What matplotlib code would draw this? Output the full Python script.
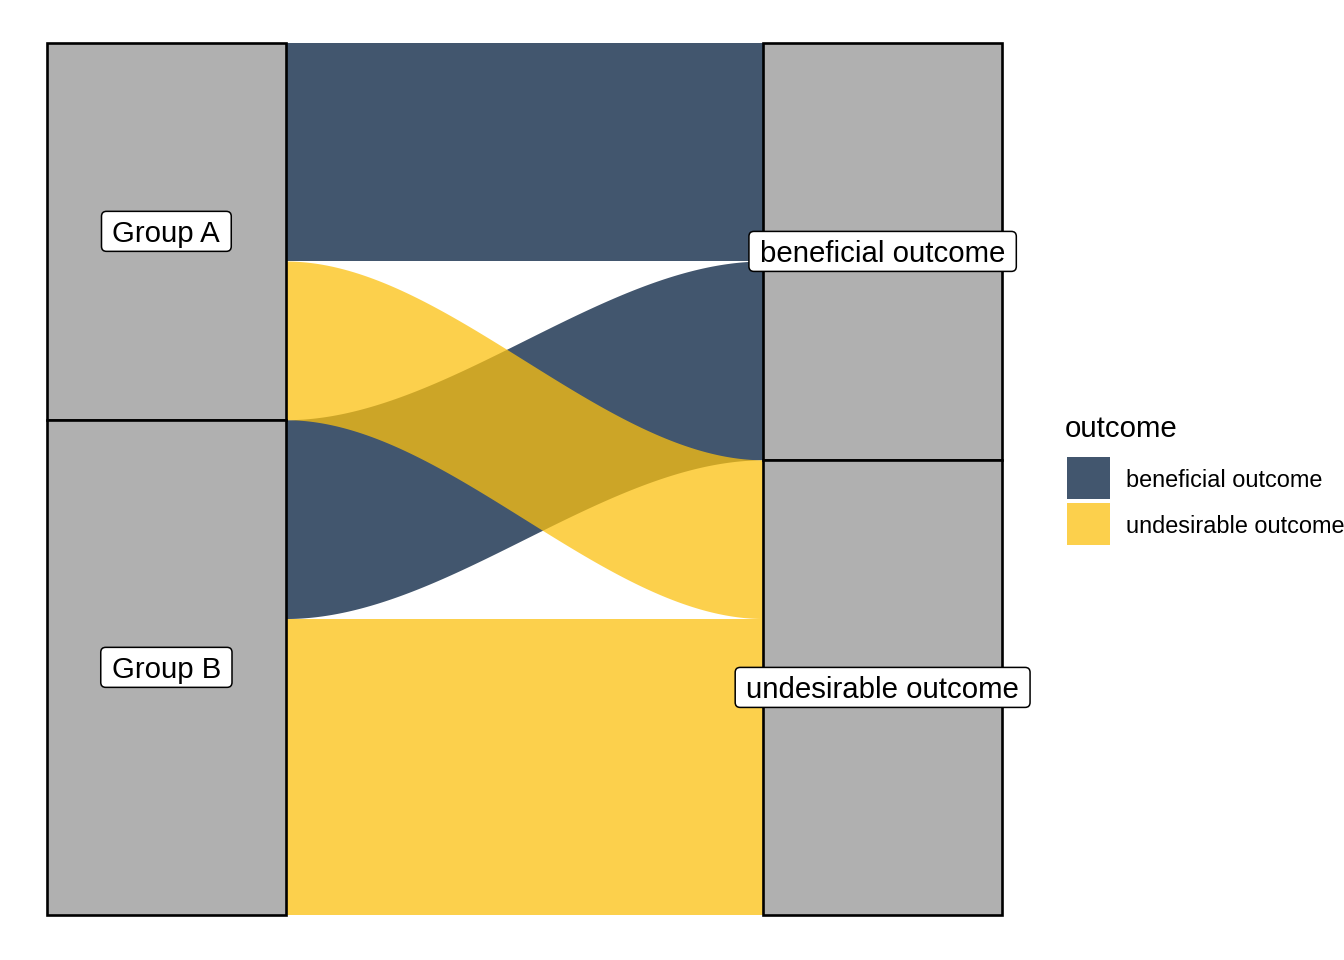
import numpy as np
import matplotlib
matplotlib.use('Agg')
import matplotlib.pyplot as plt
from matplotlib.patches import Rectangle, FancyBboxPatch
from matplotlib.transforms import ScaledTranslation, IdentityTransform

plt.rcParams['font.family'] = ['Liberation Sans', 'DejaVu Sans']

# data: share (%) of each group/outcome combination
groups = ['Group A', 'Group B']
outcomes = ['beneficial outcome', 'undesirable outcome']
group_a = [25.0, 18.2]   # beneficial, undesirable
group_b = [22.8, 34.0]
counts = np.array([group_a, group_b])

outcome_colors = {'beneficial outcome': '#031d3d', 'undesirable outcome': '#fcc110'}
flow_alpha = 0.75
stratum_fill = '#b0b0b0'
width = 1 / 3
W, H = 1344, 960

fig = plt.figure(figsize=(W / 100, H / 100), dpi=100)
ax = fig.add_axes([47 / W, 1 - 915 / H, 955 / W, 872 / H])
total = counts.sum()
ax.set_xlim(1 - width / 2, 2 + width / 2)
ax.set_ylim(0, total)
ax.axis('off')

# left axis: groups stacked top-down, outcomes stacked within each group
left_pos = {}
top = total
for gi, g in enumerate(groups):
    for oi, o in enumerate(outcomes):
        left_pos[(g, o)] = (top, top - counts[gi, oi])
        top -= counts[gi, oi]

# right axis: outcomes stacked top-down, groups stacked within each outcome
right_pos = {}
top = total
for oi, o in enumerate(outcomes):
    for gi, g in enumerate(groups):
        right_pos[(g, o)] = (top, top - counts[gi, oi])
        top -= counts[gi, oi]

x0, x1 = 1 + width / 2, 2 - width / 2
t = np.linspace(0, 1, 200)
s = 3 * t ** 2 - 2 * t ** 3
xs = x0 + (x1 - x0) * t

# flows: beneficial first so undesirable sits on top
for o in outcomes:
    for g in groups:
        (la, lb), (ra, rb) = left_pos[(g, o)], right_pos[(g, o)]
        upper = la + (ra - la) * s
        lower = lb + (rb - lb) * s
        ax.fill_between(xs, lower, upper, color=outcome_colors[o], alpha=flow_alpha,
                        linewidth=0)

label_fs = 21.2
cap_px = 0.716 * label_fs * 100 / 72
labels = []


def stratum(x, top_, bottom_, label):
    ax.add_patch(Rectangle((x - width / 2, bottom_), width, top_ - bottom_,
                           facecolor=stratum_fill, edgecolor='black', linewidth=1.9,
                           zorder=3, clip_on=False))
    yc = (top_ + bottom_) / 2
    shift = ScaledTranslation(0, -cap_px / 2 / 100, fig.dpi_scale_trans)
    txt = ax.text(x, yc, label, ha='center', va='baseline', fontsize=label_fs, zorder=5,
                  transform=ax.transData + shift)
    labels.append((txt, x, yc))


top = total
for gi, g in enumerate(groups):
    n = counts[gi].sum()
    stratum(1, top, top - n, g)
    top -= n

top = total
for oi, o in enumerate(outcomes):
    n = counts[:, oi].sum()
    stratum(2, top, top - n, o)
    top -= n

# label boxes sized from the rendered text
renderer = fig.canvas.get_renderer()
for txt, x, yc in labels:
    bb = txt.get_window_extent(renderer)
    cx, cy = ax.transData.transform((x, yc))
    bw, bh = bb.width + 22, 40
    ax.add_patch(FancyBboxPatch((cx - bw / 2, cy - bh / 2), bw, bh,
                                boxstyle='round,pad=0,rounding_size=5',
                                facecolor='white', edgecolor='black', linewidth=1.1,
                                transform=IdentityTransform(), zorder=4, clip_on=False))

# legend
fig.text(1065 / W, 1 - 437 / H, 'outcome', fontsize=21.2, va='baseline', ha='left')
key_tops = [457, 503]
for o, ky in zip(outcomes, key_tops):
    fig.add_artist(Rectangle((1067 / W, 1 - (ky + 42) / H), 43 / W, 42 / H,
                             facecolor=outcome_colors[o], alpha=flow_alpha,
                             edgecolor='none', transform=fig.transFigure))
    fig.text(1126 / W, 1 - (ky + 30) / H, o, fontsize=16.9, va='baseline', ha='left')

fig.savefig('out.png', dpi=100)
